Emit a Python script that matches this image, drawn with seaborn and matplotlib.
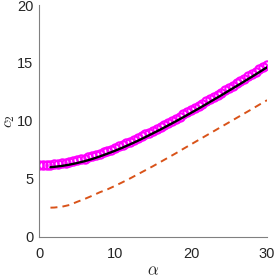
import numpy as np
import pandas as pd
import matplotlib
matplotlib.use("Agg")
import matplotlib.pyplot as plt
import seaborn as sns

# magenta circles (dense markers)
alpha_circ = [i * 0.5 for i in range(61)]
c2_circ = [6.20, 6.20, 6.22, 6.24, 6.27, 6.30, 6.35, 6.40, 6.46, 6.52,
           6.60, 6.68, 6.76, 6.86, 6.95, 7.06, 7.17, 7.29, 7.41, 7.53,
           7.66, 7.80, 7.93, 8.08, 8.22, 8.37, 8.52, 8.68, 8.84, 9.00,
           9.17, 9.33, 9.50, 9.67, 9.85, 10.02, 10.20, 10.38, 10.56, 10.74,
           10.93, 11.12, 11.30, 11.49, 11.68, 11.87, 12.07, 12.26, 12.45, 12.65,
           12.85, 13.04, 13.24, 13.44, 13.64, 13.84, 14.04, 14.25, 14.45, 14.65,
           14.86]

# black solid line
alpha_line = [1.5, 2, 3, 4, 5, 6, 7, 8, 9, 10, 11, 12, 13, 14, 15, 16,
              17, 18, 19, 20, 21, 22, 23, 24, 25, 26, 27, 28, 29, 30]
c2_black = [6.01, 6.04, 6.12, 6.23, 6.37, 6.53, 6.72, 6.94, 7.18, 7.43,
            7.70, 7.99, 8.29, 8.61, 8.94, 9.27, 9.62, 9.97, 10.33, 10.70,
            11.07, 11.45, 11.84, 12.22, 12.62, 13.01, 13.41, 13.81, 14.22, 14.63]

# orange dashed line
c2_orange = [2.52, 2.53, 2.60, 2.75, 3.02, 3.27, 3.55, 3.85, 4.10, 4.40,
             4.72, 5.05, 5.40, 5.75, 6.10, 6.47, 6.84, 7.21, 7.60, 7.98,
             8.36, 8.74, 9.12, 9.50, 9.88, 10.26, 10.64, 11.02, 11.41, 11.79]

xticks = [0, 10, 20, 30]
yticks = [0, 5, 10, 15, 20]

sns.set_style("white")
plt.rcParams["font.family"] = ["Liberation Sans", "DejaVu Sans"]
plt.rcParams["mathtext.fontset"] = "cm"

fig = plt.figure(figsize=(2.75, 2.79), dpi=100)
ax = fig.add_axes([0.142, 0.151, 0.829, 0.831])

ax.plot(alpha_circ, c2_circ, linestyle="none", marker="o", ms=6.0,
        mfc="none", mec="#FF00FF", mew=1.5, zorder=2)
sns.lineplot(x=alpha_line, y=c2_black, color="black", lw=1.7, ax=ax, zorder=3)
sns.lineplot(x=alpha_line, y=c2_orange, color="#D95319", lw=1.4, ax=ax,
             linestyle=(0, (3.6, 2.6)), zorder=3)

ax.set_xlim(0, 30)
ax.set_ylim(0, 20)
ax.set_xticks(xticks)
ax.set_yticks(yticks)
ax.tick_params(direction="in", length=3, width=0.8, color="#808080",
               labelsize=10.5, labelcolor="#262626")
ax.tick_params(axis="x", pad=7)
ax.tick_params(axis="y", pad=4)
for s in ["top", "right"]:
    ax.spines[s].set_visible(False)
for s in ["left", "bottom"]:
    ax.spines[s].set_color("#808080")
    ax.spines[s].set_linewidth(0.8)

ax.set_xlabel(r"$\alpha$", fontsize=12, color="#262626")
ax.set_ylabel(r"$c_2$", fontsize=11.5, color="#262626")
ax.xaxis.set_label_coords(0.5, -0.115)
ax.yaxis.set_label_coords(-0.098, 0.5)

fig.savefig("out.png", dpi=100)
